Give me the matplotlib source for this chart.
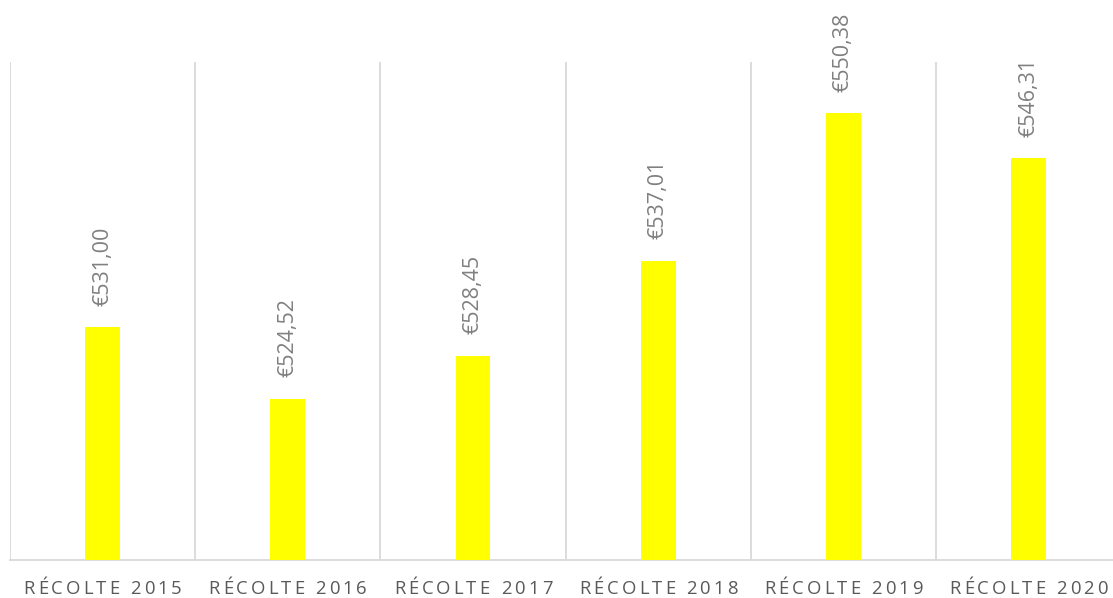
import matplotlib
matplotlib.use("Agg")
import matplotlib.pyplot as plt
import matplotlib.transforms as mtransforms
from matplotlib.font_manager import FontProperties
import numpy as np

categories = ["RÉCOLTE 2015", "RÉCOLTE 2016", "RÉCOLTE 2017", "RÉCOLTE 2018", "RÉCOLTE 2019", "RÉCOLTE 2020"]
values = [531.00, 524.52, 528.45, 537.01, 550.38, 546.31]
value_labels = ["€531,00", "€524,52", "€528,45", "€537,01", "€550,38", "€546,31"]

plt.rcParams['font.family'] = ['Open Sans', 'DejaVu Sans']

DPI = 100
fig = plt.figure(figsize=(11.13, 5.98), dpi=DPI)
ax = fig.add_axes([10/1113, (598-559.5)/598, 1111.2/1113, (559.5-62)/598])

x = np.arange(len(categories))
ax.bar(x, values, width=0.187, color="#FFFF00", zorder=3)
ax.set_ylim(510, 555)
ax.set_xlim(-0.5, len(categories) - 0.5)

for xi, v, lab in zip(x, values, value_labels):
    ax.annotate(lab, (xi, v), xytext=(0, 15.5), textcoords="offset points",
                rotation=90, ha="center", va="bottom", fontsize=15.5, color="#808080")

ax.set_xticks(x)
ax.set_xticklabels([])
ax.tick_params(axis="x", length=0)
ax.set_yticks([])
ax.set_xticks(np.arange(-0.5, len(categories)), minor=True)
ax.tick_params(axis="x", which="minor", length=0)
ax.grid(axis="x", which="minor", color="#D9D9D9", linewidth=1.3, zorder=0)
for s in ["top", "right", "left"]:
    ax.spines[s].set_visible(False)
ax.spines["bottom"].set_color("#D9D9D9")
ax.spines["bottom"].set_linewidth(1.3)

# letter-spaced category labels (Excel-style tracking)
fig.canvas.draw()
renderer = fig.canvas.get_renderer()
fs = 13.3
tracking_px = 3.05
baseline_px = 34.8
fp = FontProperties(family=['Open Sans', 'DejaVu Sans'], size=fs)
trans_base = ax.get_xaxis_transform()
for xi, cat in zip(x, categories):
    widths = []
    for ch in cat:
        if ch == " ":
            w1, _, _ = renderer.get_text_width_height_descent("a a", fp, ismath=False)
            w2, _, _ = renderer.get_text_width_height_descent("aa", fp, ismath=False)
            w = w1 - w2
        else:
            w, _, _ = renderer.get_text_width_height_descent(ch, fp, ismath=False)
        widths.append(w)
    total = sum(widths) + tracking_px * (len(cat) - 1)
    cur = -total / 2
    for ch, w in zip(cat, widths):
        if ch != " ":
            t = mtransforms.offset_copy(trans_base, fig=fig, x=cur * 72 / DPI, y=-baseline_px * 72 / DPI, units="points")
            ax.text(xi, 0, ch, transform=t, ha="left", va="baseline", fontproperties=fp, color="#595959", clip_on=False)
        cur += w + tracking_px

fig.savefig("out.png", dpi=DPI)
